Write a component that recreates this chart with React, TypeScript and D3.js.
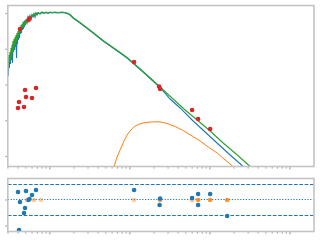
import React, { useEffect } from 'react';
import * as d3 from 'd3';

// ---- data (log10 wavelength [um], log10 flux) ----
const xMajorTicks = [0.1, 1, 10, 100];
const yTopTicks = [1e-8, 1e-9, 1e-10, 1e-11, 1e-12];
const yResTicks = [0, -5];
const residBands = [-3, 3];
const residZero = [0];

const blueModel: [number, number][] = [
  [-1.525, -9.58], [-1.519, -9.748], [-1.5125, -9.357], [-1.506, -9.524], [-1.4975, -9.245],
  [-1.491, -9.413], [-1.485, -9.077], [-1.479, -9.301], [-1.4725, -8.965], [-1.466, -9.385],
  [-1.46, -8.853], [-1.454, -9.077], [-1.4475, -8.797], [-1.441, -9.021], [-1.435, -8.741],
  [-1.429, -8.937], [-1.4225, -8.657], [-1.416, -9.245], [-1.41, -8.601], [-1.404, -8.853],
  [-1.3975, -8.545], [-1.391, -8.741], [-1.385, -8.49], [-1.379, -8.685], [-1.3725, -8.434],
  [-1.366, -8.573], [-1.36, -8.378], [-1.354, -8.545], [-1.3475, -8.35], [-1.341, -8.462],
  [-1.335, -8.294], [-1.329, -8.434], [-1.3225, -8.266], [-1.316, -8.378], [-1.31, -8.21],
  [-1.304, -8.322], [-1.2975, -8.182], [-1.285, -8.266], [-1.2725, -8.126], [-1.26, -8.21],
  [-1.2475, -8.07], [-1.235, -8.154], [-1.2225, -8.042], [-1.21, -8.098], [-1.1975, -8.014],
  [-1.185, -8.098], [-1.1725, -7.986], [-1.16, -8.042], [-1.1475, -7.986], [-1.1225, -8.014],
  [-1.0975, -7.972], [-1.0725, -8.0], [-1.0475, -7.972], [-1.0225, -8.0], [-0.9975, -7.972],
  [-0.9725, -7.986], [-0.935, -7.972], [-0.8975, -7.986], [-0.8475, -7.972], [-0.81, -7.986],
  [-0.785, -8.0], [-0.7475, -8.042], [-0.71, -8.126], [-0.6225, -8.266], [-0.46, -8.545],
  [-0.335, -8.769], [-0.21, -8.965], [-0.035, -9.245], [0.165, -9.636], [0.3775, -10.07],
  [0.5025, -10.392], [0.6275, -10.643], [0.7775, -10.979], [0.94, -11.315], [1.1025, -11.65],
  [1.2525, -11.958], [1.415, -12.28], [1.5025, -12.462],
];

const greenModel: [number, number][] = [
  [-1.525, -9.357], [-1.519, -9.468], [-1.5125, -9.161], [-1.506, -9.357], [-1.4975, -9.077],
  [-1.491, -9.301], [-1.485, -8.965], [-1.479, -9.217], [-1.4725, -8.881], [-1.466, -9.105],
  [-1.46, -8.769], [-1.454, -9.021], [-1.4475, -8.713], [-1.441, -8.937], [-1.435, -8.657],
  [-1.429, -8.853], [-1.4225, -8.601], [-1.416, -8.797], [-1.41, -8.545], [-1.404, -8.741],
  [-1.3975, -8.49], [-1.391, -8.657], [-1.385, -8.434], [-1.379, -8.601], [-1.3725, -8.378],
  [-1.366, -8.517], [-1.36, -8.322], [-1.354, -8.462], [-1.3475, -8.294], [-1.341, -8.406],
  [-1.335, -8.238], [-1.329, -8.378], [-1.3225, -8.21], [-1.316, -8.322], [-1.31, -8.182],
  [-1.304, -8.294], [-1.2975, -8.154], [-1.285, -8.238], [-1.2725, -8.098], [-1.26, -8.182],
  [-1.2475, -8.07], [-1.235, -8.126], [-1.2225, -8.028], [-1.21, -8.07], [-1.1975, -8.0],
  [-1.185, -8.056], [-1.1725, -7.986], [-1.16, -8.028], [-1.1475, -7.972], [-1.1225, -8.0],
  [-1.0975, -7.958], [-1.0725, -7.986], [-1.0475, -7.958], [-1.0225, -7.986], [-0.9975, -7.958],
  [-0.9725, -7.972], [-0.935, -7.958], [-0.8975, -7.972], [-0.8475, -7.958], [-0.81, -7.972],
  [-0.785, -7.986], [-0.7475, -8.028], [-0.71, -8.112], [-0.6225, -8.252], [-0.46, -8.531],
  [-0.335, -8.755], [-0.21, -8.951], [-0.035, -9.231], [0.165, -9.622], [0.3775, -10.056],
  [0.54, -10.392], [0.69, -10.699], [0.84, -10.979], [1.0025, -11.287], [1.165, -11.622],
  [1.3275, -11.93], [1.5025, -12.28], [1.5775, -12.434],
];

const orangeModel: [number, number][] = [
  [-0.2225, -12.517], [-0.1975, -12.28], [-0.16, -12.014], [-0.1225, -11.818], [-0.0725, -11.566],
  [-0.035, -11.399], [0.0025, -11.287], [0.04, -11.189], [0.1025, -11.105], [0.165, -11.063],
  [0.2525, -11.035], [0.315, -11.029], [0.3775, -11.035], [0.465, -11.077], [0.565, -11.161],
  [0.665, -11.273], [0.7775, -11.427], [0.8775, -11.566], [0.9775, -11.734], [1.09, -11.902],
  [1.19, -12.098], [1.29, -12.28], [1.3525, -12.406],
];

const photWave = [-1.3975, -1.385, -1.3225, -1.31, -1.2975, -1.2225, -1.1725, -1.3725, -1.266, -1.254, 0.0525, 0.365, 0.3775, 0.7775, 0.8525, 1.0025];
const photFlux = [-10.643, -10.476, -10.615, -10.14, -10.336, -10.364, -10.084, -8.434, -8.182, -8.14, -9.357, -10.042, -10.112, -10.699, -10.951, -11.231];

const residWave = [-1.3975, -1.385, -1.3725, -1.3225, -1.31, -1.2975, -1.266, -1.254, -1.2225, -1.1725, 0.0525, 0.371, 0.3775, 0.7775, 0.8525, 0.8525, 1.0025, 1.215];
const residValue = [1.54, -5.77, -0.38, -2.5, -1.54, 1.73, 0.0, 0.19, 0.96, 1.92, 1.92, -0.96, 0.29, 0.38, 1.15, -0.96, 1.15, -3.08];

const refWave = [-1.285, -1.1975, -1.11, 0.0525, 0.3775, 0.7775, 0.8525, 1.0025, 1.215];
const refValue = [0, 0, 0, 0, 0, 0, 0, 0, 0];
const refAlpha = [0.45, 0.45, 0.4, 0.4, 0.8, 0.5, 0.85, 0.85, 0.85];

const BLUE = '#1f77b4';
const GREEN = '#2ca02c';
const ORANGE = '#ff7f0e';
const RED = '#d62728';
const SPINE = '#c4c4c4';
const TICK = '#a8a8a8';

export default function App() {
  useEffect(() => {
    document.body.style.margin = '0';
  }, []);

  const L = 7.8, R = 314;
  const T1 = 5.5, B1 = 166.5;
  const T2 = 178.5, B2 = 231.5;

  const x = d3.scaleLog().domain([10 ** -1.525, 10 ** 2.3]).range([L, R]);
  const yTop = d3.scaleLog().domain([10 ** -12.28, 10 ** -7.776]).range([B1, T1]);
  const yRes = d3.scaleLinear().domain([-6.06, 4.13]).range([B2, T2]);
  const snap = (v: number) => Math.floor(v) + 0.5;

  const line = d3
    .line<[number, number]>()
    .x((d) => x(10 ** d[0]))
    .y((d) => yTop(10 ** d[1]));

  const [d0, d1] = x.domain();
  const minorTicks: number[] = [];
  for (let n = -2; n <= 2; n++) {
    for (let k = 2; k <= 9; k++) {
      const v = k * 10 ** n;
      if (v > d0 && v < d1) minorTicks.push(v);
    }
  }

  const xTicksFor = (b: number) => (
    <g>
      {minorTicks.map((v, i) => (
        <line key={'m' + i} x1={x(v)} x2={x(v)} y1={b} y2={b + 2.2} stroke={TICK} strokeWidth={1} />
      ))}
      {xMajorTicks.map((v, i) => (
        <line key={'M' + i} x1={x(v)} x2={x(v)} y1={b} y2={b + 3} stroke={TICK} strokeWidth={1.2} />
      ))}
    </g>
  );

  return (
    <svg width={320} height={240} style={{ position: 'absolute', left: 0, top: 0, background: '#fff' }}>
      <defs>
        <clipPath id="clipTop">
          <rect x={L} y={T1} width={R - L} height={B1 - T1} />
        </clipPath>
        <clipPath id="clipRes">
          <rect x={L} y={T2} width={R - L} height={B2 - T2} />
        </clipPath>
      </defs>
      <rect width={320} height={240} fill="#fff" />

      {/* top panel */}
      <g clipPath="url(#clipTop)">
        <path d={line(blueModel) || ''} fill="none" stroke={BLUE} strokeWidth={1.1} />
        <path d={line(greenModel) || ''} fill="none" stroke={GREEN} strokeWidth={1.1} />
        <path d={line(orangeModel) || ''} fill="none" stroke={ORANGE} strokeWidth={1} />
        {photWave.map((w, i) => (
          <circle key={i} cx={x(10 ** w)} cy={yTop(10 ** photFlux[i])} r={2.3} fill={RED} />
        ))}
      </g>

      {/* residual panel */}
      <g clipPath="url(#clipRes)">
        {residBands.map((v, i) => (
          <line key={i} x1={L} x2={R} y1={snap(yRes(v))} y2={snap(yRes(v))} stroke={BLUE} strokeWidth={1.1} strokeDasharray="3.7,1.6" />
        ))}
        {residZero.map((v, i) => (
          <line key={i} x1={L} x2={R} y1={snap(yRes(v))} y2={snap(yRes(v))} stroke={BLUE} strokeWidth={1.1} strokeDasharray="1.2,1.6" />
        ))}
        {refWave.map((w, i) => (
          <circle key={i} cx={x(10 ** w)} cy={yRes(refValue[i])} r={2.3} fill={ORANGE} opacity={refAlpha[i]} />
        ))}
        {residWave.map((w, i) => (
          <circle key={i} cx={x(10 ** w)} cy={yRes(residValue[i])} r={2.3} fill={BLUE} />
        ))}
      </g>

      {/* ticks */}
      {xTicksFor(B1)}
      {xTicksFor(B2)}
      {yTopTicks.map((v, i) => (
        <line key={i} x1={L - 2.5} x2={L} y1={yTop(v)} y2={yTop(v)} stroke={TICK} strokeWidth={1.2} />
      ))}
      {yResTicks.map((v, i) => (
        <line key={i} x1={L - 2.5} x2={L} y1={yRes(v)} y2={yRes(v)} stroke={TICK} strokeWidth={1.2} />
      ))}

      {/* spines */}
      <rect x={L} y={T1} width={R - L} height={B1 - T1} fill="none" stroke={SPINE} strokeWidth={1.6} />
      <rect x={L} y={T2} width={R - L} height={B2 - T2} fill="none" stroke={SPINE} strokeWidth={1.6} />
    </svg>
  );
}
